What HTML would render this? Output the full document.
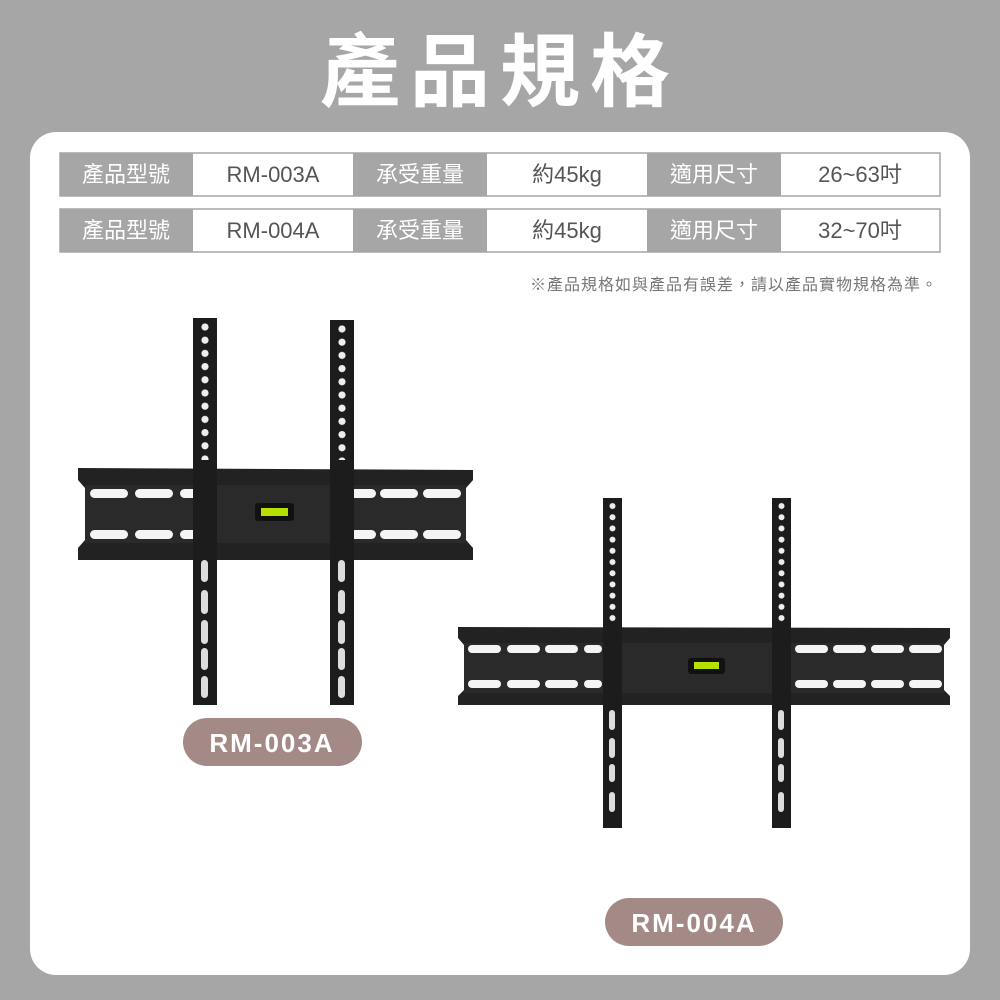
<!DOCTYPE html>
<html><head><meta charset="utf-8"><style>
html,body{margin:0;padding:0;width:1000px;height:1000px;overflow:hidden;background:#a6a6a6}
svg{display:block}
</style></head><body>
<svg width="1000" height="1000" viewBox="0 0 1000 1000" xmlns="http://www.w3.org/2000/svg">
<defs>
<pattern id="ha" x="193" y="320" width="24" height="13.2" patternUnits="userSpaceOnUse"><circle cx="12" cy="7" r="3.6" fill="#eee"/></pattern>
<pattern id="hb" x="330" y="322" width="24" height="13.2" patternUnits="userSpaceOnUse"><circle cx="12" cy="7" r="3.6" fill="#eee"/></pattern>
<pattern id="hc" x="603" y="500" width="19" height="11.2" patternUnits="userSpaceOnUse"><circle cx="9.5" cy="6" r="3" fill="#eee"/></pattern>
<pattern id="hd" x="772" y="500" width="19" height="11.2" patternUnits="userSpaceOnUse"><circle cx="9.5" cy="6" r="3" fill="#eee"/></pattern>
</defs>
<rect width="1000" height="1000" fill="#a6a6a6"/>
<text x="500" y="100" text-anchor="middle" font-family="'Liberation Sans','Noto Sans CJK TC',sans-serif" font-weight="bold" font-size="80" fill="#fff" letter-spacing="10">產品規格</text>
<rect x="30" y="132" width="940" height="843" rx="26" fill="#fff"/>
<g font-family="'Liberation Sans','Noto Sans CJK TC',sans-serif" font-size="22" text-anchor="middle">
<g>
<rect x="60" y="153" width="880" height="43" fill="#fff" stroke="#a6a6a6" stroke-width="1.5"/>
<rect x="60" y="153" width="133" height="43" fill="#a6a6a6"/>
<rect x="353" y="153" width="134" height="43" fill="#a6a6a6"/>
<rect x="647" y="153" width="134" height="43" fill="#a6a6a6"/>
<text x="126" y="182" fill="#fff">產品型號</text><text x="273" y="182" fill="#555">RM-003A</text>
<text x="420" y="182" fill="#fff">承受重量</text><text x="567" y="182" fill="#555">約45kg</text>
<text x="714" y="182" fill="#fff">適用尺寸</text><text x="860" y="182" fill="#555">26~63吋</text>
</g>
<g>
<rect x="60" y="209" width="880" height="43" fill="#fff" stroke="#a6a6a6" stroke-width="1.5"/>
<rect x="60" y="209" width="133" height="43" fill="#a6a6a6"/>
<rect x="353" y="209" width="134" height="43" fill="#a6a6a6"/>
<rect x="647" y="209" width="134" height="43" fill="#a6a6a6"/>
<text x="126" y="238" fill="#fff">產品型號</text><text x="273" y="238" fill="#555">RM-004A</text>
<text x="420" y="238" fill="#fff">承受重量</text><text x="567" y="238" fill="#555">約45kg</text>
<text x="714" y="238" fill="#fff">適用尺寸</text><text x="860" y="238" fill="#555">32~70吋</text>
</g>
<text x="938" y="290" text-anchor="end" font-size="16" fill="#777" letter-spacing="1">※產品規格如與產品有誤差，請以產品實物規格為準。</text>
</g>
<!-- Mount 1 -->
<g>
<path d="M78 468 L473 470 L473 480 L466 488 L466 540 L473 548 L473 560 L78 560 L78 548 L85 540 L85 488 L78 480Z" fill="#222"/>
<rect x="85" y="485" width="381" height="58" fill="#2a2a2a"/>
<g fill="#f4f4f4">
<rect x="90" y="489" width="38" height="9" rx="4.5"/><rect x="135" y="489" width="38" height="9" rx="4.5"/><rect x="180" y="489" width="20" height="9" rx="4.5"/>
<rect x="350" y="489" width="26" height="9" rx="4.5"/><rect x="380" y="489" width="38" height="9" rx="4.5"/><rect x="423" y="489" width="38" height="9" rx="4.5"/>
<rect x="90" y="530" width="38" height="9" rx="4.5"/><rect x="135" y="530" width="38" height="9" rx="4.5"/><rect x="180" y="530" width="20" height="9" rx="4.5"/>
<rect x="350" y="530" width="26" height="9" rx="4.5"/><rect x="380" y="530" width="38" height="9" rx="4.5"/><rect x="423" y="530" width="38" height="9" rx="4.5"/>
</g>
<rect x="255" y="503" width="39" height="18" rx="3" fill="#111"/><rect x="261" y="508" width="27" height="8" fill="#b6e000"/>
<rect x="193" y="318" width="24" height="387" fill="#1c1c1c"/>
<rect x="193" y="320" width="24" height="140" fill="url(#ha)"/>
<rect x="330" y="320" width="24" height="385" fill="#1c1c1c"/>
<rect x="330" y="322" width="24" height="138" fill="url(#hb)"/>
<g fill="#ddd">
<rect x="201" y="560" width="7" height="22" rx="3.5"/><rect x="201" y="590" width="7" height="24" rx="3.5"/><rect x="201" y="620" width="7" height="24" rx="3.5"/><rect x="201" y="648" width="7" height="22" rx="3.5"/><rect x="201" y="676" width="7" height="22" rx="3.5"/>
<rect x="338" y="560" width="7" height="22" rx="3.5"/><rect x="338" y="590" width="7" height="24" rx="3.5"/><rect x="338" y="620" width="7" height="24" rx="3.5"/><rect x="338" y="648" width="7" height="22" rx="3.5"/><rect x="338" y="676" width="7" height="22" rx="3.5"/>
</g>
</g>
<!-- Mount 2 -->
<g>
<path d="M458 627 L950 628 L950 638 L944 645 L944 690 L950 696 L950 705 L458 705 L458 696 L464 690 L464 645 L458 638Z" fill="#222"/>
<rect x="464" y="643" width="480" height="50" fill="#2a2a2a"/>
<g fill="#f4f4f4">
<rect x="468" y="645" width="33" height="8" rx="4"/><rect x="507" y="645" width="33" height="8" rx="4"/><rect x="545" y="645" width="33" height="8" rx="4"/><rect x="584" y="645" width="18" height="8" rx="4"/>
<rect x="795" y="645" width="33" height="8" rx="4"/><rect x="833" y="645" width="33" height="8" rx="4"/><rect x="871" y="645" width="33" height="8" rx="4"/><rect x="909" y="645" width="33" height="8" rx="4"/>
<rect x="468" y="680" width="33" height="8" rx="4"/><rect x="507" y="680" width="33" height="8" rx="4"/><rect x="545" y="680" width="33" height="8" rx="4"/><rect x="584" y="680" width="18" height="8" rx="4"/>
<rect x="795" y="680" width="33" height="8" rx="4"/><rect x="833" y="680" width="33" height="8" rx="4"/><rect x="871" y="680" width="33" height="8" rx="4"/><rect x="909" y="680" width="33" height="8" rx="4"/>
</g>
<rect x="688" y="658" width="37" height="16" rx="3" fill="#111"/><rect x="694" y="662" width="25" height="7" fill="#b6e000"/>
<rect x="603" y="498" width="19" height="330" fill="#1c1c1c"/>
<rect x="603" y="500" width="19" height="125" fill="url(#hc)"/>
<rect x="772" y="498" width="19" height="330" fill="#1c1c1c"/>
<rect x="772" y="500" width="19" height="125" fill="url(#hd)"/>
<g fill="#ddd">
<rect x="609" y="710" width="6" height="20" rx="3"/><rect x="609" y="738" width="6" height="20" rx="3"/><rect x="609" y="764" width="6" height="18" rx="3"/><rect x="609" y="792" width="6" height="20" rx="3"/>
<rect x="778" y="710" width="6" height="20" rx="3"/><rect x="778" y="738" width="6" height="20" rx="3"/><rect x="778" y="764" width="6" height="18" rx="3"/><rect x="778" y="792" width="6" height="20" rx="3"/>
</g>
</g>
<g font-family="'Liberation Sans',sans-serif" font-weight="bold" font-size="26" fill="#fff" text-anchor="middle" letter-spacing="2">
<rect x="183" y="718" width="179" height="48" rx="24" fill="#a48a87"/>
<text x="272" y="752">RM-003A</text>
<rect x="605" y="898" width="178" height="48" rx="24" fill="#a48a87"/>
<text x="694" y="932">RM-004A</text>
</g>
</svg>
</body></html>
